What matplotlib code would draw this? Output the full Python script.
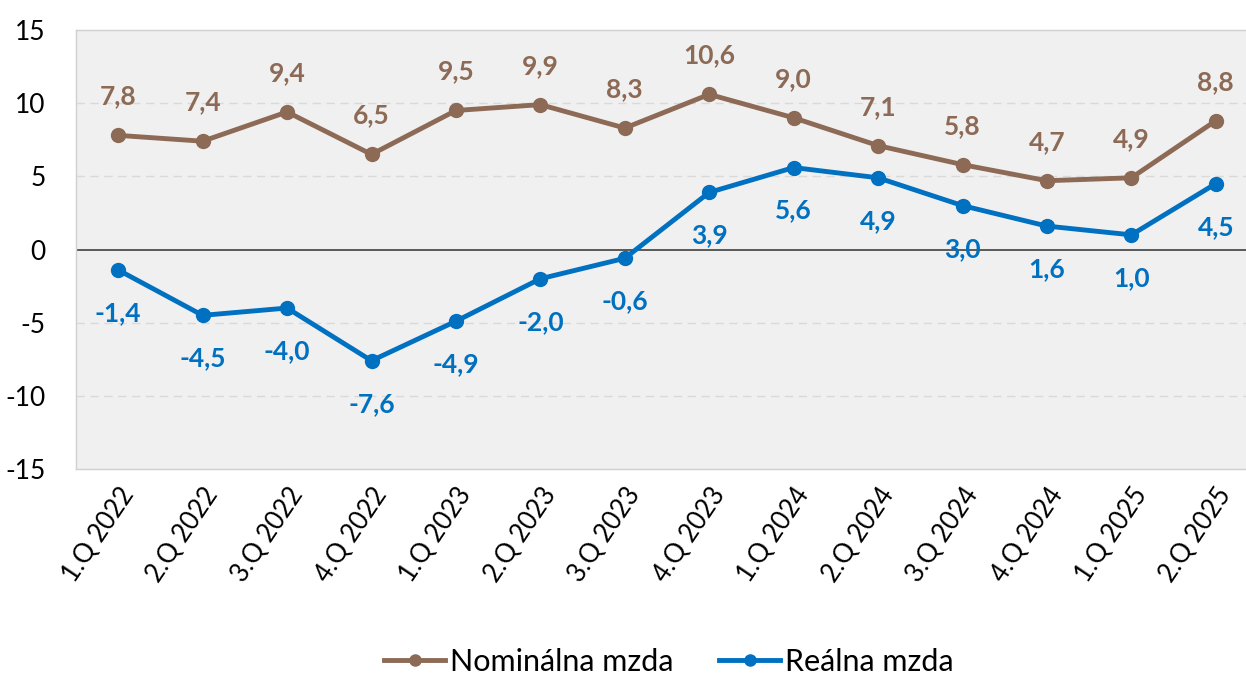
import numpy as np
import matplotlib.pyplot as plt

plt.rcParams['font.family'] = ['Lato', 'DejaVu Sans']
plt.rcParams['axes.unicode_minus'] = False

quarters = ['1.Q 2022', '2.Q 2022', '3.Q 2022', '4.Q 2022',
            '1.Q 2023', '2.Q 2023', '3.Q 2023', '4.Q 2023',
            '1.Q 2024', '2.Q 2024', '3.Q 2024', '4.Q 2024',
            '1.Q 2025', '2.Q 2025']
nominal = [7.8, 7.4, 9.4, 6.5, 9.5, 9.9, 8.3, 10.6, 9.0, 7.1, 5.8, 4.7, 4.9, 8.8]
real = [-1.4, -4.5, -4.0, -7.6, -4.9, -2.0, -0.6, 3.9, 5.6, 4.9, 3.0, 1.6, 1.0, 4.5]

brown = '#8C6A55'
blue = '#0070C0'

fig = plt.figure(figsize=(12.46, 6.77), dpi=100)
ax = fig.add_axes([76/1246, 1 - 469/677, (1258 - 76)/1246, (469 - 30)/677])
ax.set_facecolor('#F0F0F0')

x = np.arange(len(quarters))
ax.plot(x, nominal, '-o', color=brown, lw=3.5, ms=10, label='Nominálna mzda', zorder=3)
ax.plot(x, real, '-o', color=blue, lw=3.5, ms=10, label='Reálna mzda', zorder=3)

for i, v in enumerate(nominal):
    ax.annotate(f'{v:.1f}'.replace('.', ','), (i, v), xytext=(0, 28), textcoords='offset points',
                ha='center', va='center', color=brown, fontsize=19, fontweight='bold')
for i, v in enumerate(real):
    ax.annotate(f'{v:.1f}'.replace('.', ','), (i, v), xytext=(0, -31), textcoords='offset points',
                ha='center', va='center', color=blue, fontsize=19, fontweight='bold')

ax.set_xlim(-0.5, len(quarters) - 0.5)
ax.set_ylim(-15, 15)
ax.set_yticks(np.arange(-15, 16, 5))
for yv in [-10, -5, 5, 10]:
    ax.axhline(yv, color='#D9D9D9', lw=1, ls=(0, (6, 4)), zorder=1)
ax.axhline(0, color='#404040', lw=1.2, zorder=2)

ax.set_xticks(x)
ax.set_xticklabels(quarters, rotation=56, ha='right', rotation_mode='anchor', fontsize=18.5)
ax.tick_params(axis='y', labelsize=19, length=0, pad=22)
ax.tick_params(axis='x', length=0, pad=10)
for s in ax.spines.values():
    s.set_color('#D0D0D0')
    s.set_linewidth(1)

fig.legend(loc='center', bbox_to_anchor=(669/1246, 1 - 662/677), ncol=2, frameon=False,
           fontsize=22, handlelength=2.0, handletextpad=0.15, columnspacing=1.5,
           markerscale=0.8)

fig.savefig('out.png', dpi=100)
